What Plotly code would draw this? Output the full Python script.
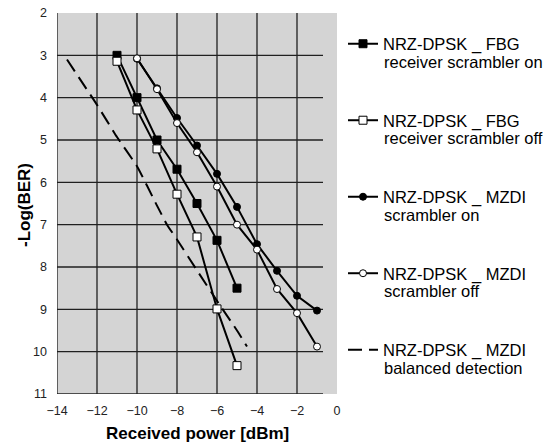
import plotly.graph_objects as go

# Data
x_fbg_on = [-11, -10, -9, -8, -7, -6, -5]
y_fbg_on = [3.0, 4.0, 5.0, 5.69, 6.5, 7.37, 8.5]

x_fbg_off = [-11, -10, -9, -8, -7, -6, -5]
y_fbg_off = [3.14, 4.29, 5.21, 6.28, 7.29, 8.99, 10.33]

x_mzdi_on = [-10, -9, -8, -7, -6, -5, -4, -3, -2, -1]
y_mzdi_on = [3.08, 3.78, 4.48, 5.13, 5.8, 6.58, 7.46, 8.09, 8.68, 9.03]

x_mzdi_off = [-10, -9, -8, -7, -6, -5, -4, -3, -2, -1]
y_mzdi_off = [3.07, 3.8, 4.6, 5.29, 6.1, 7.0, 7.59, 8.52, 9.09, 9.88]

x_bal = [-13.5, -12, -11, -10, -9, -8.5, -8, -7, -6, -5, -4.5]
y_bal = [3.1, 4.17, 4.93, 5.62, 6.55, 7.0, 7.35, 8.08, 8.8, 9.5, 9.88]

name_line1 = ["NRZ-DPSK _ FBG", "NRZ-DPSK _ FBG", "NRZ-DPSK _ MZDI",
              "NRZ-DPSK _ MZDI", "NRZ-DPSK _ MZDI"]
name_line2 = ["receiver scrambler on", "receiver scrambler off", "scrambler on",
              "scrambler off", "balanced detection"]

x_ticks = [-14, -12, -10, -8, -6, -4, -2, 0]
y_ticks = [2, 3, 4, 5, 6, 7, 8, 9, 10, 11]

# layout geometry (pixels)
W, H = 544, 445
ML, MR, MT, MB = 57, 207, 13, 51
PW, PH = W - ML - MR, H - MT - MB
px = lambda v: (v - ML) / PW
py = lambda v: (H - MB - v) / PH

legend_rows = [44, 120.5, 197, 273.5, 350]
legend_ids = ["legend", "legend2", "legend3", "legend4", "legend5"]

fig = go.Figure()
line = dict(color="black", width=2)
fig.add_trace(go.Scatter(x=x_fbg_on, y=y_fbg_on, mode="lines+markers", name=name_line1[0],
                         legend=legend_ids[0], line=line,
                         marker=dict(symbol="square", size=8, color="black",
                                     line=dict(color="black", width=1))))
fig.add_trace(go.Scatter(x=x_fbg_off, y=y_fbg_off, mode="lines+markers", name=name_line1[1],
                         legend=legend_ids[1], line=line,
                         marker=dict(symbol="square", size=8, color="white",
                                     line=dict(color="black", width=1))))
fig.add_trace(go.Scatter(x=x_mzdi_on, y=y_mzdi_on, mode="lines+markers", name=name_line1[2],
                         legend=legend_ids[2], line=line,
                         marker=dict(symbol="circle", size=7, color="black",
                                     line=dict(color="black", width=1))))
fig.add_trace(go.Scatter(x=x_mzdi_off, y=y_mzdi_off, mode="lines+markers", name=name_line1[3],
                         legend=legend_ids[3], line=line,
                         marker=dict(symbol="circle", size=7, color="white",
                                     line=dict(color="black", width=1))))
fig.add_trace(go.Scatter(x=x_bal, y=y_bal, mode="lines", name=name_line1[4],
                         legend=legend_ids[4],
                         line=dict(color="black", width=2, dash="14px,7px", shape="spline",
                                   smoothing=0.4)))

shapes = []
for v in [-14, -12, -10, -8, -6, -4, -2]:
    shapes.append(dict(type="line", xref="x", yref="y", x0=v, x1=v, y0=2, y1=11,
                       line=dict(color="#202020", width=1.3), layer="below"))
for v in [3, 4, 5, 6, 7, 8, 9, 10, 11]:
    shapes.append(dict(type="line", xref="x", yref="y", x0=-14, x1=-0.7, y0=v, y1=v,
                       line=dict(color="#202020", width=1.3), layer="below"))

annotations = [
    dict(text="<b>Received power [dBm]</b>", xref="paper", yref="paper",
         x=0.5, y=py(433), xanchor="center", yanchor="middle", showarrow=False,
         font=dict(size=17, color="black")),
    dict(text="<b>-Log(BER)</b>", xref="paper", yref="paper",
         x=px(24), y=py(205), xanchor="center", yanchor="middle", showarrow=False,
         textangle=-90, font=dict(size=17, color="black")),
]
for row, t in zip(legend_rows, name_line2):
    annotations.append(dict(text=t, xref="paper", yref="paper", x=px(382), y=py(row + 17.7),
                            xanchor="left", yanchor="middle", showarrow=False,
                            font=dict(size=16.5, color="black")))

legend_style = dict(xanchor="left", yanchor="middle", font=dict(size=16.5, color="black"),
                    bgcolor="rgba(0,0,0,0)", borderwidth=0)

layout_legends = {}
for lid, row in zip(legend_ids, legend_rows):
    layout_legends[lid] = dict(x=px(343), y=py(row), **legend_style)

fig.update_layout(
    width=W, height=H,
    margin=dict(l=ML, r=MR, t=MT, b=MB),
    paper_bgcolor="white",
    plot_bgcolor="#d4d4d4",
    font=dict(family="Liberation Sans, Arial, sans-serif", color="#222"),
    shapes=shapes,
    annotations=annotations,
    showlegend=True,
    xaxis=dict(range=[-14, 0], tickvals=x_ticks, showgrid=False, zeroline=False,
               showline=False, ticks="", automargin=False, ticklabelstandoff=7,
               tickfont=dict(size=12.5, color="#222")),
    yaxis=dict(range=[11, 2], tickvals=y_ticks, showgrid=False, zeroline=False,
               showline=False, ticks="", automargin=False, ticklabelstandoff=9,
               tickfont=dict(size=12.5, color="#222")),
    **layout_legends,
)

fig.write_html("out.html")
